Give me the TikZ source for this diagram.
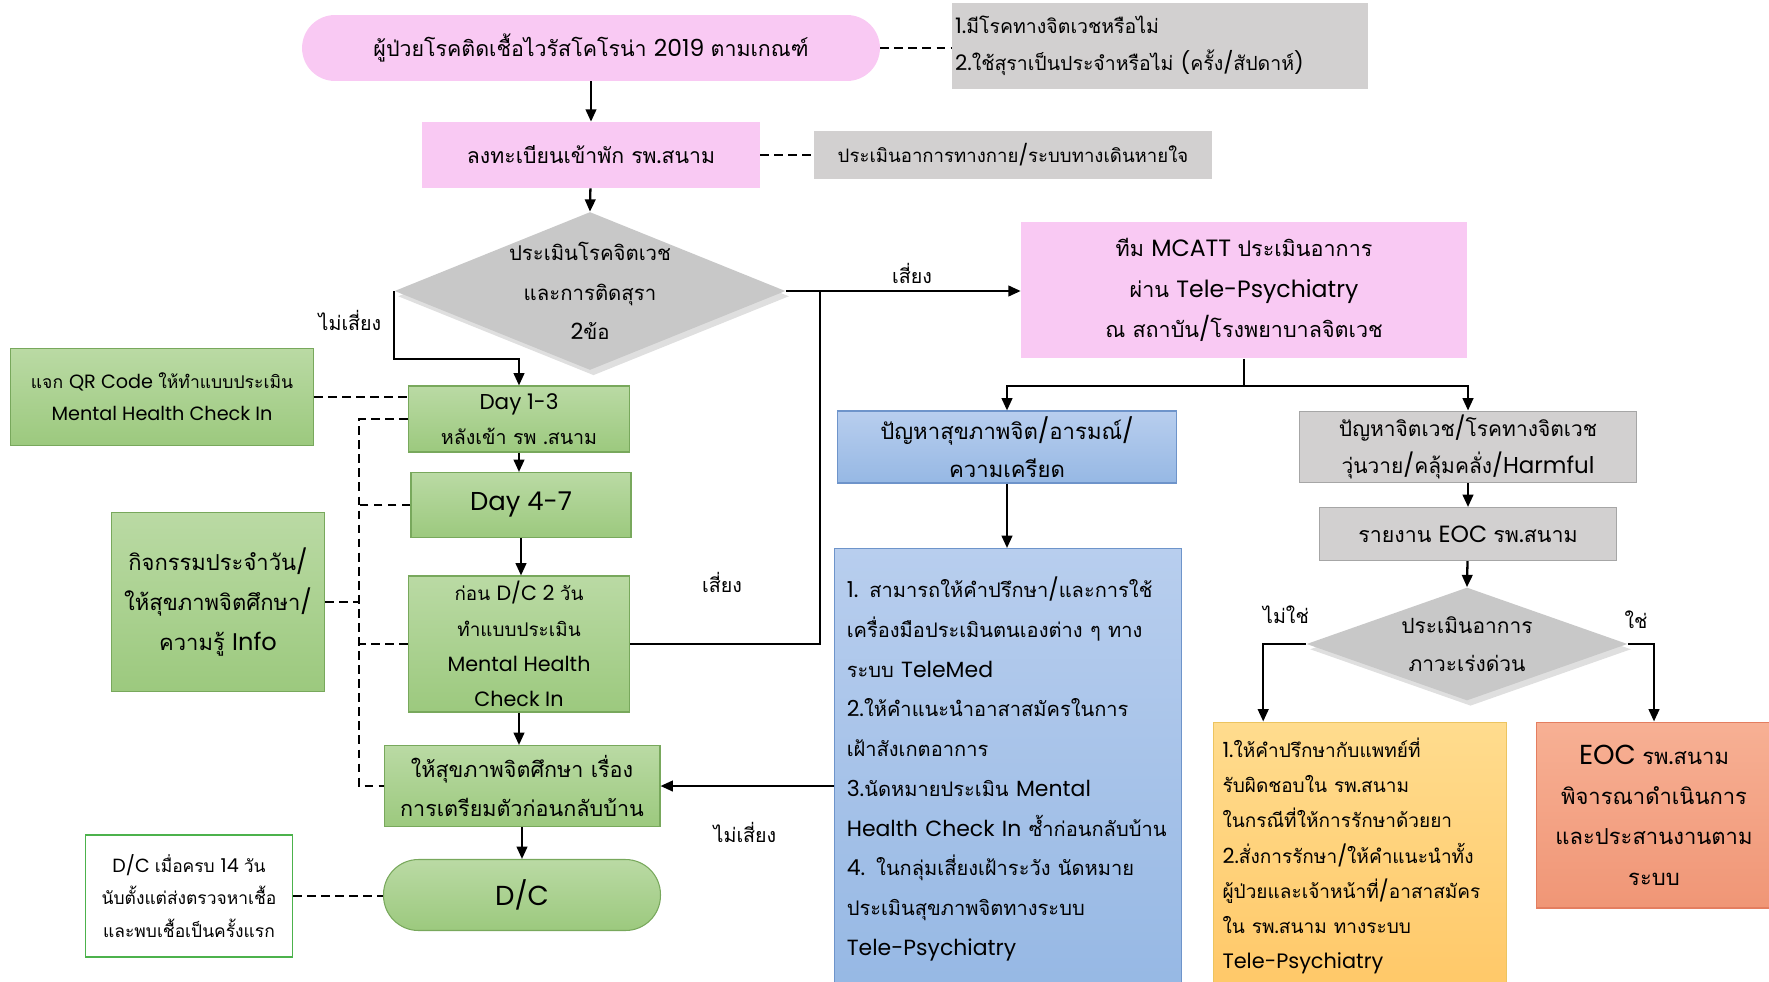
\documentclass[tikz,border=0pt]{standalone}
\usepackage{fontspec}
\setmainfont{Poppins}[Scale=0.92]
\newfontfamily\latinfont{Poppins}[Scale=0.92]
\newfontfamily\thaifont{Loma}[Script=Thai, Scale=0.84]
\usetikzlibrary{arrows.meta,shapes.geometric,shadows,positioning}

% Thai runs in Loma, the rest in Poppins
\XeTeXinterchartokenstate=1
\newXeTeXintercharclass\thaiclass
\newcount\thaich
\thaich="0E00
\loop \XeTeXcharclass\thaich=\thaiclass \advance\thaich by 1 \ifnum\thaich<"0E80 \repeat
\XeTeXinterchartoks 0 \thaiclass = {\thaifont}
\XeTeXinterchartoks 4095 \thaiclass = {\thaifont}
\XeTeXinterchartoks \thaiclass 0 = {\latinfont}
\XeTeXinterchartoks 4095 0 = {\latinfont}

\definecolor{pinkc}{RGB}{249,201,243}
\definecolor{grayc}{RGB}{210,208,208}
\definecolor{dgray}{RGB}{200,200,200}
\definecolor{greentop}{RGB}{186,218,164}
\definecolor{greenbot}{RGB}{156,201,126}
\definecolor{greenln}{RGB}{120,168,92}
\definecolor{bluetop}{RGB}{184,206,238}
\definecolor{bluebot}{RGB}{150,184,228}
\definecolor{blueln}{RGB}{110,148,202}
\definecolor{yeltop}{RGB}{255,220,142}
\definecolor{yelbot}{RGB}{255,200,104}
\definecolor{yelln}{RGB}{236,196,96}
\definecolor{orgtop}{RGB}{247,176,148}
\definecolor{orgbot}{RGB}{240,150,118}
\definecolor{orgln}{RGB}{228,126,96}

\begin{document}
\begin{tikzpicture}[
  x=0.02cm, y=-0.02cm,
  box/.style={rectangle, align=center, inner sep=2pt},
  pinkbox/.style={box, fill=pinkc},
  notebox/.style={box, fill=grayc},
  greenbox/.style={box, draw=greenln, line width=0.6pt, top color=greentop, bottom color=greenbot},
  bluebox/.style={box, draw=blueln, line width=0.6pt, top color=bluetop, bottom color=bluebot},
  graybox/.style={box, draw=gray!70, line width=0.6pt, fill=grayc},
  decision/.style={diamond, fill=dgray, inner sep=0pt,
    drop shadow={opacity=0.25, shadow xshift=2pt, shadow yshift=-3pt}},
  arr/.style={-{Triangle[length=7pt,width=6pt]}, line width=1.3pt},
  link/.style={line width=1.3pt},
  dsh/.style={line width=1.3pt, dash pattern=on 5pt off 3pt},
  lbl/.style={font=\fontsize{13.3}{16}\selectfont},
]
\useasboundingbox (0,0) rectangle (1769,981);

% top row
\node[pinkbox, rounded corners=0.66cm, minimum width=11.56cm, minimum height=1.32cm,
  font=\fontsize{14.5}{18}\selectfont] (start) at (591,48)
  {ผู้ป่วยโรคติดเชื้อไวรัสโคโรน่า 2019 ตามเกณฑ์};
\node[notebox, align=left, text width=8.2cm, minimum height=1.74cm,
  font=\fontsize{13.2}{21}\selectfont] (note1) at (1160,46)
  {1.มีโรคทางจิตเวชหรือไม่\\2.ใช้สุราเป็นประจำหรือไม่ (ครั้ง/สัปดาห์)};
\node[pinkbox, minimum width=6.76cm, minimum height=1.32cm,
  font=\fontsize{14.4}{17}\selectfont] (reg) at (591,155) {ลงทะเบียนเข้าพัก รพ.สนาม};
\node[notebox, minimum width=7.98cm, minimum height=0.96cm,
  font=\fontsize{12.6}{15}\selectfont] (note2) at (1013,155)
  {ประเมินอาการทางกาย/ระบบทางเดินหายใจ};

% first decision
\node[decision, minimum width=7.82cm, minimum height=3.16cm,
  label={[align=center, font=\fontsize{13.8}{22.4}\selectfont]center:{ประเมินโรคจิตเวช\\และการติดสุรา\\2ข้อ}}]
  (dq1) at (590,291) {};

% left column
\node[greenbox, minimum width=4.42cm, minimum height=1.32cm,
  font=\fontsize{13.3}{20}\selectfont] (day13) at (519,419) {Day 1-3\\หลังเข้า รพ .สนาม};
\node[greenbox, minimum width=6.06cm, minimum height=1.94cm,
  font=\fontsize{11.9}{18}\selectfont] (qr) at (162,397)
  {แจก QR Code ให้ทำแบบประเมิน\\Mental Health Check In};
\node[greenbox, minimum width=4.4cm, minimum height=1.3cm,
  font=\fontsize{16}{19}\selectfont] (day47) at (521,505) {Day 4-7};
\node[greenbox, minimum width=4.26cm, minimum height=3.58cm,
  font=\fontsize{14.9}{23}\selectfont] (act) at (218,602)
  {กิจกรรมประจำวัน/\\ให้สุขภาพจิตศึกษา/\\ความรู้ Info};
\node[greenbox, minimum width=4.42cm, minimum height=2.72cm,
  font=\fontsize{12.8}{20}\selectfont] (predc) at (519,644)
  {ก่อน D/C 2 วัน\\ทำแบบประเมิน\\Mental Health\\Check In};
\node[greenbox, minimum width=5.52cm, minimum height=1.62cm,
  font=\fontsize{14.6}{22}\selectfont] (edu) at (522,786)
  {ให้สุขภาพจิตศึกษา เรื่อง\\การเตรียมตัวก่อนกลับบ้าน};
\node[greenbox, rounded corners=0.7cm, minimum width=5.54cm, minimum height=1.42cm,
  font=\fontsize{17}{20}\selectfont] (dc) at (522,895) {D/C};
\node[box, draw=gray!60!green, line width=0.6pt, minimum width=4.14cm, minimum height=2.44cm,
  font=\fontsize{11.8}{18.5}\selectfont] (dcnote) at (189,896)
  {D/C เมื่อครบ 14 วัน\\นับตั้งแต่ส่งตรวจหาเชื้อ\\และพบเชื้อเป็นครั้งแรก};

% right part
\node[pinkbox, minimum width=8.92cm, minimum height=2.74cm,
  font=\fontsize{14.6}{23}\selectfont] (mcatt) at (1244,290)
  {ทีม MCATT ประเมินอาการ\\ผ่าน Tele-Psychiatry\\ณ สถาบัน/โรงพยาบาลจิตเวช};
\node[bluebox, minimum width=6.78cm, minimum height=1.44cm,
  font=\fontsize{15}{22}\selectfont] (blue1) at (1007,447)
  {ปัญหาสุขภาพจิต/อารมณ์/\\ความเครียด};
\node[graybox, minimum width=6.74cm, minimum height=1.36cm,
  font=\fontsize{14.2}{21.5}\selectfont] (gray1) at (1468,447)
  {ปัญหาจิตเวช/โรคทางจิตเวช\\วุ่นวาย/คลุ้มคลั่ง/Harmful};
\node[graybox, minimum width=5.94cm, minimum height=1.06cm,
  font=\fontsize{14.5}{17}\selectfont] (eocrep) at (1468,534) {รายงาน EOC รพ.สนาม};
\node[decision, minimum width=6.42cm, minimum height=2.26cm,
  label={[align=center, font=\fontsize{14.2}{21.5}\selectfont]center:{ประเมินอาการ\\ภาวะเร่งด่วน}}]
  (dq2) at (1467,644) {};
\node[bluebox, align=left, inner xsep=7pt, text width=6.45cm, minimum height=8.82cm,
  font=\fontsize{13.6}{22.6}\selectfont] (tips) at (1008,769)
  {1. สามารถให้คำปรึกษา/และการใช้\\เครื่องมือประเมินตนเองต่าง ๆ ทาง\\ระบบ TeleMed\\2.ให้คำแนะนำอาสาสมัครในการ\\เฝ้าสังเกตอาการ\\3.นัดหมายประเมิน Mental\\Health Check In ซ้ำก่อนกลับบ้าน\\4. ในกลุ่มเสี่ยงเฝ้าระวัง นัดหมาย\\ประเมินสุขภาพจิตทางระบบ\\Tele-Psychiatry};
\node[box, draw=yelln, line width=0.6pt, top color=yeltop, bottom color=yelbot,
  align=left, inner xsep=5pt, text width=5.5cm, minimum height=5.36cm,
  font=\fontsize{12.9}{20}\selectfont] (consult) at (1360,856)
  {1.ให้คำปรึกษากับแพทย์ที่\\รับผิดชอบใน รพ.สนาม\\ในกรณีที่ให้การรักษาด้วยยา\\2.สั่งการรักษา/ให้คำแนะนำทั้ง\\ผู้ป่วยและเจ้าหน้าที่/อาสาสมัคร\\ใน รพ.สนาม ทางระบบ\\Tele-Psychiatry};
\node[box, draw=orgln, line width=0.6pt, top color=orgtop, bottom color=orgbot,
  minimum width=4.72cm, minimum height=3.72cm,
  font=\fontsize{14.9}{23}\selectfont] (eoc) at (1654,815)
  {{\fontsize{17}{23}\selectfont EOC} รพ.สนาม\\พิจารณาดำเนินการ\\และประสานงานตาม\\ระบบ};

% branch labels
\node[lbl] (lnr1) at (350,320) {ไม่เสี่ยง};
\node[lbl] (lr1) at (912,273) {เสี่ยง};
\node[lbl] (lr2) at (722,582) {เสี่ยง};
\node[lbl] (lnr2) at (745,832) {ไม่เสี่ยง};
\node[lbl] (lno) at (1286,615) {ไม่ใช่};
\node[lbl] (lyes) at (1636,620) {ใช่};

% main flow
\draw[arr] (start) -- (reg);
\draw[arr] (reg) -- (dq1.north);
\draw[dsh] (start.east) -- (start.east -| note1.west);
\draw[dsh] (reg) -- (note2);
\draw[arr] (dq1.west) -- ++(0,68) -| (day13.north);
\draw[arr] (day13) -- (day13 |- day47.north);
\draw[arr] (day47) -- (day47 |- predc.north);
\draw[arr] (predc) -- (predc |- edu.north);
\draw[arr] (edu) -- (edu |- dc.north);

% dashed side notes
\coordinate (bx) at (359,0);
\draw[dsh] (qr.east) -- (qr.east -| day13.west);
\draw[dsh] (day13.west) -| (bx |- edu.west) -- (edu.west);
\draw[dsh] (day47.west) -- (day47.west -| bx);
\draw[dsh] (predc.west) -- (predc.west -| bx);
\draw[dsh] (act.east) -- (act.east -| bx);
\draw[dsh] (dcnote.east) -- (dcnote.east -| dc.west);

% risk path
\coordinate (j1) at (820,291);
\draw[arr] (dq1.east) -- (dq1.east -| mcatt.west);
\draw[link] (predc.east) -| (j1);
\coordinate (f1) at (1244,386);
\draw[link] (mcatt.south) -- (f1);
\draw[arr] (f1) -| (blue1.north);
\draw[arr] (f1) -| (gray1.north);
\draw[arr] (blue1) -- (blue1 |- tips.north);
\draw[arr] (tips.west |- edu.east) -- (edu.east);
\draw[arr] (gray1) -- (gray1 |- eocrep.north);
\draw[arr] (eocrep) -- (dq2.north);
\draw[arr] (dq2.west) -| ([xshift=1cm]consult.north west);
\draw[arr] (dq2.east) -| (eoc.north);
\end{tikzpicture}
\end{document}
